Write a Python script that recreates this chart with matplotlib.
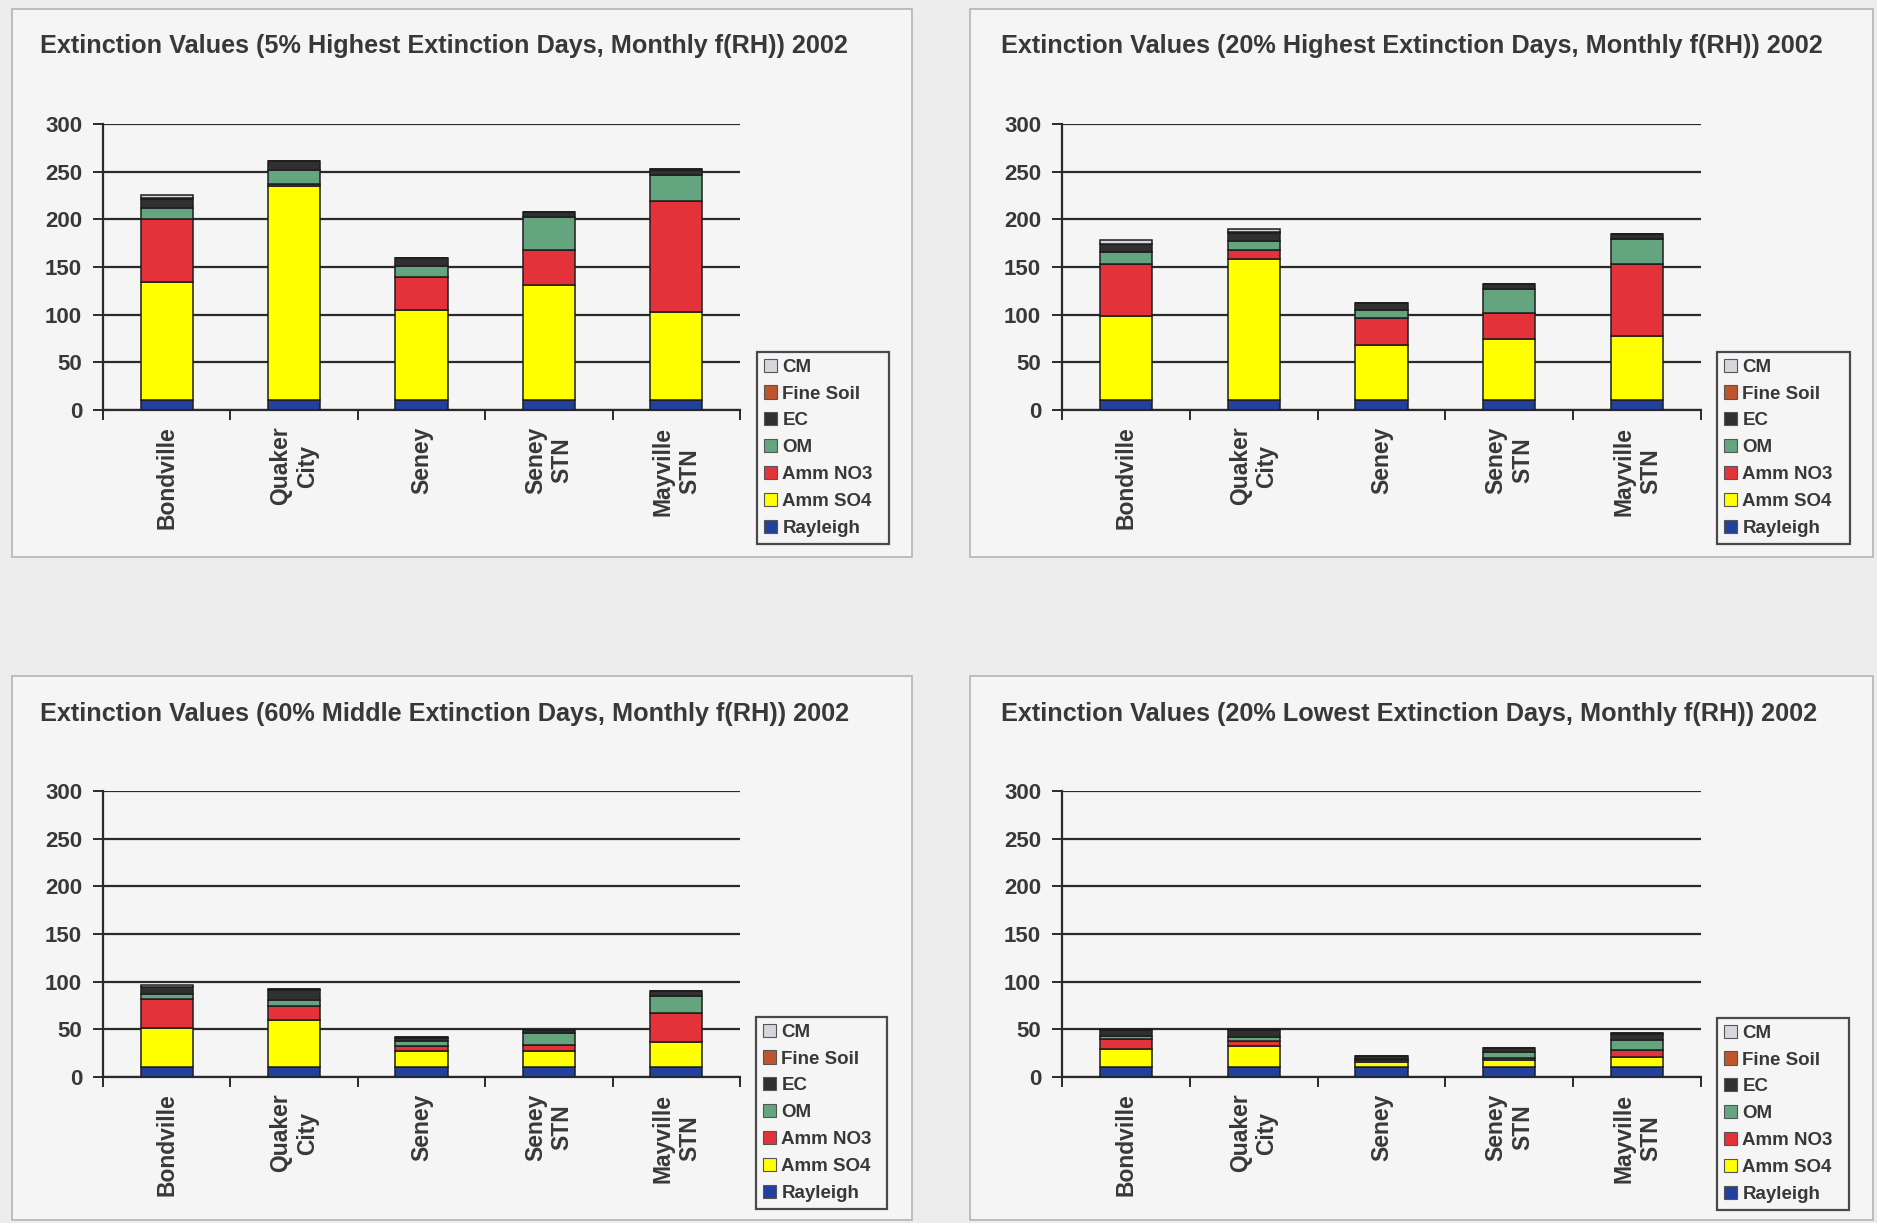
import matplotlib
matplotlib.use("Agg")
import matplotlib.pyplot as plt
import numpy as np
from matplotlib.patches import Rectangle, Patch

plt.rcParams.update({
    "font.family": ["Liberation Sans", "DejaVu Sans"],
    "font.weight": "bold",
})

W, H = 1877, 1223

sites = ["Bondville", "Quaker\nCity", "Seney", "Seney\nSTN", "Mayville\nSTN"]
species = ["Rayleigh", "Amm SO4", "Amm NO3", "OM", "EC", "Fine Soil", "CM"]
colors = ["#22409c", "#ffff00", "#e4323a", "#64a47e", "#303030", "#c0542c", "#d6d6dc"]

titles = [
    "Extinction Values (5% Highest Extinction Days, Monthly f(RH)) 2002",
    "Extinction Values (20% Highest Extinction Days, Monthly f(RH)) 2002",
    "Extinction Values (60% Middle Extinction Days, Monthly f(RH)) 2002",
    "Extinction Values (20% Lowest Extinction Days, Monthly f(RH)) 2002",
]

# rows = sites, columns = species (Rayleigh, SO4, NO3, OM, EC, Fine Soil, CM)
high5 = [
    [10.5, 124, 66, 11, 10, 0.5, 4],
    [10.5, 224, 3, 14, 9.5, 0.5, 0],
    [10.5, 94, 35, 12, 7.5, 0.5, 0],
    [10.5, 121, 36, 35, 5, 0.5, 0],
    [10.5, 92, 116.5, 28, 5, 0.5, 0],
]
high20 = [
    [10, 88.5, 55, 12, 8.5, 0.5, 4],
    [10, 148, 9.5, 10, 8.5, 0.5, 3.5],
    [10, 58, 29, 7.5, 7.5, 0.5, 0],
    [10, 64, 28, 25, 5, 0.5, 0],
    [10, 68, 75, 26.5, 5, 0.5, 0],
]
middle60 = [
    [10, 41, 31, 5, 7, 0.5, 2.5],
    [10, 50, 14, 7, 10.5, 0.5, 0],
    [10, 17, 5.5, 5, 3.5, 0.5, 0],
    [10, 17, 7, 12.5, 2.5, 0.5, 0],
    [10, 27, 30, 18, 5, 0.5, 0],
]
low20 = [
    [10, 19, 11, 3, 6, 0.5, 1],
    [10, 23, 5, 4, 7, 0.5, 0.5],
    [10, 6, 1.5, 1.5, 3, 0.3, 0],
    [10, 8, 2, 6.5, 3.5, 0.3, 0],
    [10, 10.5, 8, 10.5, 6.5, 0.5, 0.5],
]
datasets = [high5, high20, middle60, low20]

yticks = [0, 50, 100, 150, 200, 250, 300]

# pixel boxes: panel frame, plot area, legend box, title anchor
panels = [(12, 9, 912, 557), (970, 9, 1873, 557), (12, 676, 912, 1220), (970, 676, 1873, 1220)]
plot_areas = [(103, 124, 740, 410), (1062, 124, 1701, 410), (103, 791, 740, 1077), (1062, 791, 1701, 1077)]
legend_boxes = [(757, 352, 889, 547), (1717, 352, 1850, 547), (756, 1017, 887, 1211), (1717, 1018, 1849, 1211)]
title_pos = [(40, 46), (1001, 46), (40, 714), (1001, 714)]

text_color = "#383838"

fig = plt.figure(figsize=(W / 100, H / 100), dpi=100)
fig.patch.set_facecolor("#ededed")


def fx(x):
    return x / W


def fy(y):
    return 1 - y / H


for k in range(4):
    x0, y0, x1, y1 = panels[k]
    fig.patches.append(Rectangle((fx(x0), fy(y1)), fx(x1 - x0), (y1 - y0) / H,
                                 transform=fig.transFigure, facecolor="#f5f5f5",
                                 edgecolor="#b4b4b4", linewidth=1.2, zorder=-5))

    fig.text(fx(title_pos[k][0]), fy(title_pos[k][1]), titles[k], fontsize=18.2,
             fontweight="bold", color=text_color, ha="left", va="center")

    l, t, r, b = plot_areas[k]
    ax = fig.add_axes([fx(l), fy(b), fx(r - l), (b - t) / H])
    ax.set_facecolor("none")

    vals = np.array(datasets[k], dtype=float)
    x = np.arange(len(sites))
    bottom = np.zeros(len(sites))
    handles = []
    for j, name in enumerate(species):
        ax.bar(x, vals[:, j], width=0.41, bottom=bottom, color=colors[j],
               edgecolor="#1e1e1e", linewidth=1.1, zorder=3)
        bottom += vals[:, j]
        handles.append(Patch(facecolor=colors[j], edgecolor="#555555", linewidth=0.8, label=name))

    ax.set_xlim(-0.5, len(sites) - 0.5)
    ax.set_ylim(0, 300)
    ax.set_yticks(yticks)
    ax.set_yticklabels([str(v) for v in yticks], fontsize=16, fontweight="bold", color=text_color)
    ax.yaxis.grid(True, color="#2a2a2a", linewidth=1.6)
    ax.set_axisbelow(True)

    # labels at category centres, tick marks at category boundaries
    ax.set_xticks(x)
    ax.set_xticklabels(sites, rotation=90, fontsize=16.5, fontweight="bold",
                       color=text_color, ha="center", va="top", multialignment="center")
    ax.set_xticks(np.arange(-0.5, len(sites)), minor=True)
    ax.tick_params(axis="x", which="major", length=0, pad=12)
    ax.tick_params(axis="x", which="minor", length=7, width=1.4, color="#2a2a2a", direction="out")
    ax.tick_params(axis="y", length=7, width=1.4, color="#2a2a2a", pad=8)

    for side in ["top", "right"]:
        ax.spines[side].set_visible(False)
    for side in ["left", "bottom"]:
        ax.spines[side].set_color("#2a2a2a")
        ax.spines[side].set_linewidth(1.6)

    lx0, ly0, lx1, ly1 = legend_boxes[k]
    leg = ax.legend(handles[::-1], species[::-1], loc="upper left",
                    bbox_to_anchor=(fx(lx0), fy(ly1), fx(lx1 - lx0), (ly1 - ly0) / H),
                    bbox_transform=fig.transFigure, mode="expand",
                    fontsize=13.5, frameon=True, fancybox=False, borderaxespad=0,
                    handlelength=0.7, handleheight=0.7, handletextpad=0.3,
                    labelspacing=0.52, borderpad=0.35)
    leg.get_frame().set_edgecolor("#1e1e1e")
    leg.get_frame().set_linewidth(1.6)
    leg.get_frame().set_facecolor("#f5f5f5")
    for txt in leg.get_texts():
        txt.set_color(text_color)
        txt.set_fontweight("bold")

plt.savefig("out.png", dpi=100, facecolor=fig.get_facecolor())
